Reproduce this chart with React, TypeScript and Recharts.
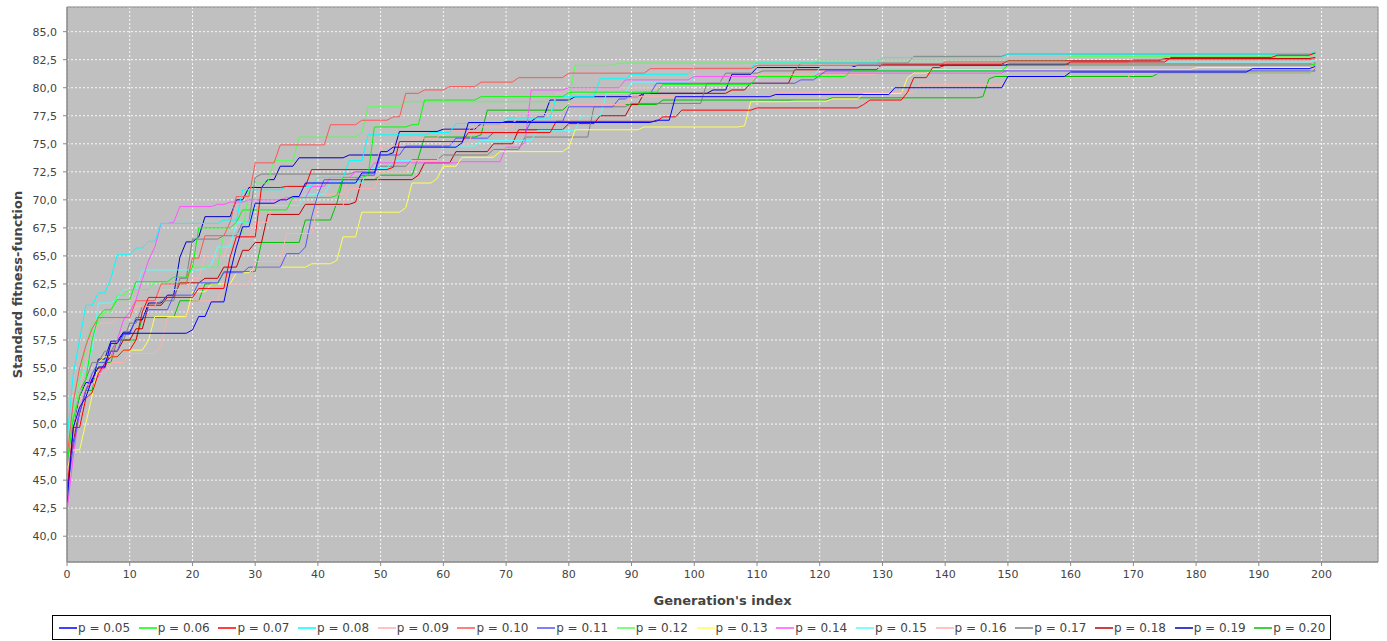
import { LineChart, Line, XAxis, YAxis, CartesianGrid, Legend, ReferenceArea, Label } from "recharts";

type Pt = [number, number];

// best fitness per generation, one list per mutation probability: [generation, value]
const P05: Pt[] = [[0,43],[1,49.7],[2,51.5],[3,52.4],[4,54],[5,55.1],[7,57.2],[9,58.1],[20,58.4],[21,59.6],[23,60.9],[26,63.5],[27,65.8],[28,67.6],[30,69.7],[34,70],[36,70.3],[38,71.5],[47,72.4],[50,74.3],[52,74.7],[63,75.1],[64,76.9],[94,77.1],[97,79.2],[113,79.4],[132,80.0],[150,81.0],[160,81.4],[189,81.7],[199,81.9]];
const P06: Pt[] = [[0,46.5],[1,50.5],[2,52.5],[3,54],[4,57.5],[5,59.6],[6,60.2],[8,61.1],[11,62.7],[17,63.1],[20,64],[21,67.5],[27,68],[28,69.1],[36,70.2],[43,70.4],[44,72],[48,72.2],[49,76.5],[55,76.7],[57,78.9],[66,79.2],[80,79.6],[95,80.3],[110,81.0],[125,81.5],[150,82.0],[199,82.1]];
const P07: Pt[] = [[0,44],[1,49.7],[3,52.3],[4,52.8],[5,54.5],[6,55.4],[7,56],[9,56.6],[11,57.5],[12,60],[13,61.3],[21,62.1],[26,64.9],[27,66.7],[31,71.1],[35,71.2],[39,72.7],[52,72.9],[53,75.2],[64,76.0],[78,77.0],[95,77.4],[98,78.0],[110,78.2],[127,78.5],[128,78.9],[134,79.6],[135,80.9],[138,81.8],[140,82.0],[160,82.3],[176,82.7],[193,82.9],[199,83.1]];
const P08: Pt[] = [[0,48.6],[1,54.5],[2,57.5],[3,60.6],[5,61.7],[7,63],[8,65.1],[11,65.7],[13,66.3],[15,67.9],[25,68.2],[28,70.9],[35,71.2],[40,72],[45,73.5],[48,75.8],[58,76],[62,76.8],[70,77.3],[78,79.2],[85,80.8],[90,81.2],[100,81.8],[110,82.2],[130,82.7],[150,83.0],[199,83.2]];
const P09: Pt[] = [[0,45],[1,49],[2,52],[3,53.5],[5,54.5],[7,55.5],[10,56.3],[15,57],[16,59.5],[20,61],[25,62.5],[30,64.5],[35,67],[40,69.5],[45,71],[50,72.5],[55,73.5],[60,75],[65,76.5],[72,77.7],[80,78.5],[90,79.2],[113,79.6],[136,80.3],[150,80.9],[170,81.3],[199,81.8]];
const P10: Pt[] = [[0,47],[1,52],[2,55],[3,57],[4,58.5],[5,59.5],[11,61],[15,62.5],[20,64.8],[22,66.8],[26,68],[27,70.3],[30,73.3],[34,74.9],[42,76.7],[47,77.1],[52,77.4],[54,79.5],[57,79.8],[61,80.1],[66,80.5],[72,80.9],[80,81.3],[93,81.7],[110,82.0],[140,82.3],[170,82.5],[199,82.6]];
const P11: Pt[] = [[0,44],[1,48],[2,51],[3,53],[4,54.5],[5,55.5],[7,56.5],[9,58],[11,59.5],[13,60.2],[17,61.5],[21,62.6],[25,63.5],[29,64.0],[35,65.2],[38,65.8],[39,68.5],[40,70.5],[41,71.8],[47,72.2],[50,74],[54,74.8],[62,75.5],[68,76],[74,77],[80,78.3],[88,79.0],[90,79.5],[94,80.4],[117,80.7],[120,81.1],[121,81.5],[199,81.5]];
const P12: Pt[] = [[0,47],[1,51],[2,54],[3,57],[4,59],[6,60],[8,61.5],[10,62],[14,62.7],[20,64],[25,67],[29,70.9],[30,71.5],[33,73.5],[37,75.6],[47,76],[48,78.3],[54,78.75],[80,78.8],[81,82.0],[88,82.2],[120,82.5],[160,82.8],[199,83.0]];
const P13: Pt[] = [[0,46],[1,47.7],[3,50.1],[4,52.5],[5,55.5],[6,56.0],[9,56.6],[13,57.5],[14,59.6],[20,61.8],[23,62.5],[27,63.5],[30,64.0],[39,64.3],[43,64.6],[44,66.7],[47,68.9],[54,69.3],[55,71.5],[59,71.9],[60,73.0],[63,73.8],[69,74.3],[80,74.7],[81,76.25],[92,76.5],[108,76.6],[109,78.75],[116,78.8],[122,79.0],[127,79.5],[134,80.9],[135,81.3],[138,81.6],[180,81.8],[199,81.9]];
const P14: Pt[] = [[0,42.3],[1,47.1],[2,51.25],[3,53.0],[4,54.2],[6,55.3],[7,56.0],[8,57.5],[9,59.3],[10,60.0],[11,61.1],[12,62.9],[13,64.6],[14,65.8],[15,67.9],[17,68.0],[18,69.4],[24,69.6],[26,69.8],[29,70.0],[35,70.2],[39,71.2],[42,72],[46,72.5],[49,73.3],[63,73.4],[70,74.7],[73,75.1],[74,79.8],[80,80.0],[89,80.7],[100,81.0],[120,81.3],[150,81.6],[180,81.8],[199,82.0]];
const P15: Pt[] = [[0,47],[1,51],[2,53.9],[3,55],[4,56.6],[5,60.8],[8,61.2],[9,62.0],[12,63.75],[22,63.9],[23,64.2],[24,65.8],[27,68],[30,69.5],[38,70.5],[42,71.5],[48,72.8],[52,73.5],[60,74.8],[66,75.3],[75,76.2],[82,77.5],[86,79.5],[90,80.5],[100,81.0],[120,81.8],[150,82.3],[199,82.5]];
const P16: Pt[] = [[0,45.5],[1,50],[2,53],[3,55.5],[4,57.5],[5,59],[8,59.5],[11,60.5],[15,62],[20,63],[22,65],[26,66.5],[30,68],[33,70],[38,70.5],[45,72],[50,74.8],[55,75.5],[60,76.2],[65,76.8],[72,77.5],[78,79.5],[84,80],[95,80.5],[110,81.2],[130,81.8],[160,82.1],[199,82.2]];
const P17: Pt[] = [[0,46],[1,50],[2,53],[3,54],[4,55.5],[6,56.5],[8,57.5],[10,59],[12,60.5],[15,61],[18,63],[20,66.5],[25,66.8],[28,68],[30,72],[31,72.3],[46,72.5],[50,73.0],[55,73.6],[60,74.0],[68,74.5],[73,75.6],[84,78.3],[90,78.6],[102,80.4],[105,81.3],[111,81.5],[117,82.2],[135,82.8],[150,83.0],[199,83.1]];
const P18: Pt[] = [[0,45],[1,48.5],[2,51],[3,53],[4,54],[5,55],[7,56.5],[9,57.5],[11,58.5],[13,60.6],[16,61.3],[18,62.6],[22,63],[25,64],[28,65.5],[30,66.2],[32,68.7],[38,69.6],[46,69.8],[47,71.8],[56,72.2],[57,73.3],[62,74.3],[68,75],[72,76.25],[80,76.8],[85,77.5],[90,78.5],[92,79.5],[106,79.8],[109,80.4],[116,81.6],[130,82.1],[150,82.4],[175,82.6],[199,82.7]];
const P19: Pt[] = [[0,44],[1,50],[2,52.5],[3,53.7],[5,55.8],[7,57.4],[9,58.2],[11,59.3],[13,60.8],[16,61.5],[18,64.9],[19,66.25],[21,66.7],[22,68.5],[27,70],[29,71.1],[32,71.8],[34,73.0],[37,73.75],[45,74.0],[52,74.2],[53,76.1],[60,76.3],[66,76.8],[70,77.0],[75,77.4],[77,78.9],[81,79.2],[92,79.5],[103,79.8],[106,81.2],[110,81.8],[126,82.0],[150,82.1],[199,82.2]];
const P20: Pt[] = [[0,46],[1,49],[2,51],[3,53],[5,55.5],[8,57.5],[12,59.5],[18,61],[22,62.5],[25,63.6],[31,66.2],[38,68.2],[43,69.7],[44,71.8],[50,72.2],[56,73.75],[57,75.6],[66,75.8],[67,78.0],[80,78.5],[95,78.9],[122,79.1],[146,79.2],[147,80.8],[148,81.0],[174,81.3],[199,81.7]];

const SERIES = [
  { name: "p = 0.05", color: "#0000FF", points: P05 },
  { name: "p = 0.06", color: "#00FF00", points: P06 },
  { name: "p = 0.07", color: "#FF0000", points: P07 },
  { name: "p = 0.08", color: "#00FFFF", points: P08 },
  { name: "p = 0.09", color: "#FFAFAF", points: P09 },
  { name: "p = 0.10", color: "#FF5555", points: P10 },
  { name: "p = 0.11", color: "#5555FF", points: P11 },
  { name: "p = 0.12", color: "#55FF55", points: P12 },
  { name: "p = 0.13", color: "#FFFF55", points: P13 },
  { name: "p = 0.14", color: "#FF55FF", points: P14 },
  { name: "p = 0.15", color: "#55FFFF", points: P15 },
  { name: "p = 0.16", color: "#FFAFAF", points: P16 },
  { name: "p = 0.17", color: "#808080", points: P17 },
  { name: "p = 0.18", color: "#C00000", points: P18 },
  { name: "p = 0.19", color: "#0000C0", points: P19 },
  { name: "p = 0.20", color: "#00C000", points: P20 },
];

const X_TICKS = [0, 10, 20, 30, 40, 50, 60, 70, 80, 90, 100, 110, 120, 130, 140, 150, 160, 170, 180, 190, 200];
const Y_TICKS = [40, 42.5, 45, 47.5, 50, 52.5, 55, 57.5, 60, 62.5, 65, 67.5, 70, 72.5, 75, 77.5, 80, 82.5, 85];
const X_DOMAIN = [0, 209];
const Y_DOMAIN = [37.7, 87.2];

const FONT = "DejaVu Sans";

// flat until one generation before the next point, then a straight jump (like the renderer joining consecutive gens)
const JUMP_PX = 6.2;
function stepJump(context: any) {
  let px = 0, py = 0, started = false;
  return {
    areaStart() {},
    areaEnd() {},
    lineStart() { started = false; },
    lineEnd() {},
    point(x: number, y: number) {
      if (!started) {
        context.moveTo(x, y);
        started = true;
      } else {
        context.lineTo(Math.max(px, x - JUMP_PX), py);
        context.lineTo(x, y);
      }
      px = x;
      py = y;
    },
  };
}

function LegendBox() {
  return (
    <div style={{ display: "flex", alignItems: "center", boxSizing: "border-box", width: 1279, height: 25, marginLeft: 52, border: "1px solid #000", paddingLeft: 6, background: "#fff", fontFamily: FONT }}>
      {SERIES.map((s) => (
        <div key={s.name} style={{ width: 79.7, flexShrink: 0, display: "flex", alignItems: "center" }}>
          <svg width={18} height={4}><line x1={0} y1={2} x2={18} y2={2} stroke={s.color} strokeWidth={1.5} /></svg>
          <span style={{ marginLeft: 1, fontSize: 12, color: "#444", whiteSpace: "nowrap" }}>{s.name}</span>
        </div>
      ))}
    </div>
  );
}

export default function App() {
  const tick = { fontSize: 11, fill: "#444", fontFamily: FONT };
  return (
    <div style={{ width: 1387, height: 641, background: "#fff" }}>
      <style>{"body{margin:0}"}</style>
      <LineChart width={1387} height={641} margin={{ top: 7, right: 9, bottom: 1, left: 0 }}>
        <CartesianGrid fill="#C0C0C0" fillOpacity={1} stroke="#ffffff" strokeDasharray="2 2" strokeOpacity={0.9} />
        <XAxis type="number" dataKey="g" domain={X_DOMAIN} ticks={X_TICKS} allowDataOverflow height={53}
          tickSize={4} tickMargin={4} tick={tick} stroke="#888" interval={0}>
          <Label value="Generation's index" position="insideBottom" offset={10}
            style={{ fontFamily: FONT, fontSize: 13, fontWeight: "bold", fill: "#444" }} />
        </XAxis>
        <YAxis type="number" domain={Y_DOMAIN} ticks={Y_TICKS} allowDataOverflow width={67}
          tickSize={4} tickMargin={6} tick={tick} stroke="#888" interval={0}
          tickFormatter={(v: number) => v.toFixed(1).replace(".", ",")}>
          <Label value="Standard fitness-function" angle={-90} position="insideLeft" offset={17}
            style={{ fontFamily: FONT, fontSize: 13, fontWeight: "bold", fill: "#444", textAnchor: "middle" }} />
        </YAxis>
        {[...SERIES].reverse().map((s) => (
          <Line key={s.name} name={s.name} data={s.points.map(([g, v]) => ({ g, v }))} dataKey="v"
            type={stepJump as any} stroke={s.color} strokeWidth={1} dot={false} activeDot={false}
            isAnimationActive={false} />
        ))}
        <ReferenceArea x1={X_DOMAIN[0]} x2={X_DOMAIN[1]} y1={Y_DOMAIN[0]} y2={Y_DOMAIN[1]} fill="none" stroke="#808080" />
        <Legend verticalAlign="bottom" content={() => <LegendBox />} wrapperStyle={{ left: 0, width: 1387 }} />
      </LineChart>
    </div>
  );
}
